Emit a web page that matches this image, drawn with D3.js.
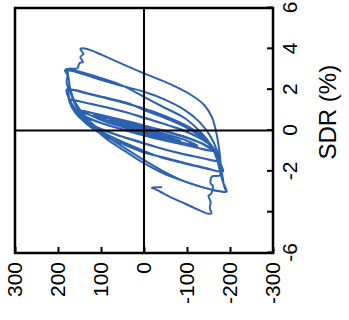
<!DOCTYPE html>
<html>
<head>
<meta charset="utf-8">
<script src="https://cdn.jsdelivr.net/npm/d3@7"></script>
<style>
  html, body { margin: 0; padding: 0; background: #fff; }
  svg { display: block; }
  text { font-family: "Liberation Sans", Arial, sans-serif; fill: #000; }
</style>
</head>
<body>
<svg id="chart" width="349" height="320"></svg>
<script>
// Cyclic test record: storey drift ratio (SDR, %) against lateral force, one array per drift stage,
// each point is [SDR, force].
const drift025 = [[0,0],[0.12,22],[0.25,42],[0.22,36],[0.08,10],[-0.1,-20],[-0.25,-42],[-0.22,-36],[-0.08,-10],[0.05,12]];
const drift050 = [[0.25,45],[0.4,65],[0.5,80],[0.46,72],[0.3,42],[0.08,0],[-0.2,-45],[-0.4,-70],[-0.5,-85],[-0.46,-76],[-0.3,-45],[-0.08,0],[0.2,42]];
const drift075 = [[0.5,88],[0.75,118],[0.7,106],[0.55,74],[0.3,25],[0.15,0],[-0.2,-55],[-0.5,-100],[-0.75,-125],[-0.7,-112],[-0.55,-80],[-0.3,-30],[-0.15,0],[0.2,55],[0.5,98]];
const drift100 = [[0.75,125],[1.0,155],[0.97,142],[0.85,118],[0.6,68],[0.4,28],[0.25,0],[0.0,-42],[-0.4,-105],[-0.7,-140],[-1.0,-160],[-0.97,-148],[-0.85,-124],[-0.6,-72],[-0.4,-30],[-0.25,0],[0.0,42],[0.4,105],[0.7,140],[1.0,158],[0.97,145],[0.85,120],[0.6,70],[0.38,25],[0.22,-3],[0.0,-45],[-0.4,-108],[-0.7,-142],[-1.0,-162],[-0.97,-150],[-0.85,-126],[-0.6,-74],[-0.4,-32],[-0.22,0],[0.0,40],[0.4,103],[0.7,138]];
const drift150 = [[1.0,158],[1.25,166],[1.5,172],[1.47,158],[1.35,134],[1.1,82],[0.85,35],[0.64,0],[0.3,-50],[-0.1,-105],[-0.6,-148],[-1.1,-166],[-1.5,-175],[-1.47,-160],[-1.35,-135],[-1.1,-82],[-0.85,-35],[-0.64,0],[-0.3,52],[0.1,105],[0.6,148],[1.1,166],[1.5,174],[1.47,160],[1.35,134],[1.1,80],[0.82,30],[0.58,-5],[0.25,-57],[-0.15,-108],[-0.65,-150],[-1.1,-167],[-1.5,-177],[-1.47,-162],[-1.35,-135],[-1.1,-80],[-0.82,-30],[-0.58,5],[-0.25,57],[0.15,108],[0.65,150],[1.1,167]];
const drift200 = [[1.5,174],[2.0,180],[1.98,164],[1.85,140],[1.6,92],[1.3,37],[1.08,0],[0.7,-50],[0.2,-102],[-0.4,-143],[-1.0,-166],[-1.5,-176],[-2.0,-183],[-1.98,-168],[-1.85,-146],[-1.6,-97],[-1.3,-42],[-1.08,0],[-0.7,45],[-0.2,97],[0.4,138],[1.0,162],[1.5,172],[2.0,178],[1.98,160],[1.85,136],[1.6,87],[1.3,32],[1.0,0],[0.6,-50],[0.1,-102],[-0.5,-143],[-1.1,-167],[-1.6,-177],[-2.0,-184],[-1.98,-168],[-1.85,-142],[-1.6,-92],[-1.3,-37],[-1.0,0],[-0.6,45],[-0.1,94],[0.5,138],[1.1,162],[1.6,174]];
const drift300 = [[2.0,176],[2.4,180],[2.7,178],[2.95,184],[2.93,170],[2.8,148],[2.55,110],[2.2,55],[1.9,0],[1.5,-50],[1.0,-95],[0.4,-130],[-0.3,-155],[-1.0,-170],[-1.7,-178],[-2.3,-183],[-2.7,-186],[-3.0,-190],[-2.98,-176],[-2.8,-140],[-2.5,-95],[-2.0,-45],[-1.45,0],[-0.85,45],[-0.25,88],[0.4,123],[1.05,150],[1.6,165],[2.1,172],[2.6,176],[3.0,182],[2.98,168],[2.85,145],[2.6,105],[2.2,50],[1.65,0],[1.2,-40],[0.6,-95],[0.0,-128],[-0.6,-152],[-1.2,-166],[-1.9,-176],[-2.5,-183],[-3.0,-192],[-2.98,-178],[-2.8,-140],[-2.5,-95],[-2.1,-45],[-1.6,0],[-1.0,45],[-0.4,88],[0.25,123],[0.9,150],[1.5,165],[2.0,172],[2.5,175],[3.0,176]];
const drift400 = [[3.05,155],[3.3,150],[3.35,142],[3.6,148],[3.75,141],[4.0,148],[4.02,138],[3.9,120],[3.7,98],[3.3,55],[2.8,0],[2.3,-58],[1.8,-105],[1.25,-140],[0.65,-158],[0,-167],[-0.8,-174],[-1.6,-178],[-2.2,-176],[-2.25,-158],[-2.6,-155],[-2.7,-160],[-3.1,-156],[-3.2,-150],[-3.5,-155],[-3.8,-153],[-4.05,-157],[-4.08,-150],[-3.9,-128],[-3.6,-97],[-3.3,-65],[-3.0,-38],[-2.85,-23],[-2.8,-18],[-2.78,-40]];

// Axis ticks and their labels
const sdrTicks = [-6, -4, -2, 0, 2, 4, 6];
const sdrTickLabels = ["-6", "", "-2", "0", "2", "4", "6"];
const forceTicks = [-300, -200, -100, 0, 100, 200, 300];
const forceTickLabels = ["-300", "-200", "-100", "0", "100", "200", "300"];
const sdrTitle = "SDR (%)";

const record = [].concat(drift025, drift050, drift075, drift100, drift150, drift200, drift300, drift400);

const svg = d3.select("#chart");

// The plot is laid on its side: SDR runs along the inner x axis, force along the inner y axis,
// and the whole group is turned a quarter turn anticlockwise.
const g = svg.append("g").attr("transform", "translate(0,320) rotate(-90)");

const x = d3.scaleLinear().domain([-6, 6]).range([67, 312]);
const y = d3.scaleLinear().domain([-300, 300]).range([273, 15]);

// hysteresis curve
const line = d3.line()
  .x(d => x(d[0]))
  .y(d => y(d[1]))
  .curve(d3.curveCatmullRom.alpha(0.5));

g.append("path")
  .datum(record)
  .attr("fill", "none")
  .attr("stroke", "#2d62b0")
  .attr("stroke-width", 2)
  .attr("stroke-linejoin", "round")
  .attr("stroke-linecap", "round")
  .attr("d", line);

// zero lines
g.append("line")
  .attr("x1", x(0)).attr("x2", x(0))
  .attr("y1", y(300)).attr("y2", y(-300))
  .attr("stroke", "#000").attr("stroke-width", 2);
g.append("line")
  .attr("x1", x(-6)).attr("x2", x(6))
  .attr("y1", y(0)).attr("y2", y(0))
  .attr("stroke", "#000").attr("stroke-width", 2);

// SDR axis (ticks point inward)
const xAxis = g.append("g")
  .attr("transform", `translate(0,${y(-300)})`)
  .call(d3.axisBottom(x)
    .tickValues(sdrTicks)
    .tickSizeInner(-6)
    .tickSizeOuter(0)
    .tickPadding(9)
    .tickFormat((d, i) => sdrTickLabels[i]));
xAxis.select(".domain").remove();
xAxis.selectAll(".tick line").attr("stroke", "#000").attr("stroke-width", 2);
xAxis.selectAll(".tick text")
  .attr("font-size", 21)
  .attr("font-family", "Liberation Sans, Arial, sans-serif")
  .attr("fill", "#000");

// force axis (ticks point inward)
const yAxis = g.append("g")
  .attr("transform", `translate(${x(-6)},0)`)
  .call(d3.axisLeft(y)
    .tickValues(forceTicks)
    .tickSizeInner(-6)
    .tickSizeOuter(0)
    .tickPadding(9)
    .tickFormat((d, i) => forceTickLabels[i]));
yAxis.select(".domain").remove();
yAxis.selectAll(".tick line").attr("stroke", "#000").attr("stroke-width", 2);
yAxis.selectAll(".tick text")
  .attr("font-size", 21)
  .attr("font-family", "Liberation Sans, Arial, sans-serif")
  .attr("fill", "#000");

// frame
g.append("rect")
  .attr("x", x(-6)).attr("y", y(300))
  .attr("width", x(6) - x(-6)).attr("height", y(-300) - y(300))
  .attr("fill", "none")
  .attr("stroke", "#000")
  .attr("stroke-width", 2.5);

// SDR title, sitting a little toward the positive end of the axis
g.append("text")
  .attr("x", x(0.9))
  .attr("y", 336)
  .attr("text-anchor", "middle")
  .attr("font-size", 24)
  .text(sdrTitle);
</script>
</body>
</html>
